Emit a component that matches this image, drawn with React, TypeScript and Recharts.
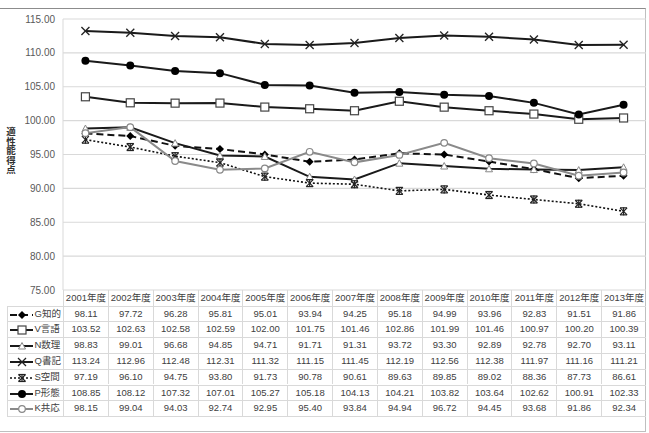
import React from 'react';
import { LineChart, Line, XAxis, YAxis, CartesianGrid } from 'recharts';

const categories = ['2001年度', '2002年度', '2003年度', '2004年度', '2005年度', '2006年度', '2007年度', '2008年度', '2009年度', '2010年度', '2011年度', '2012年度', '2013年度'];
const gValues = [98.11, 97.72, 96.28, 95.81, 95.01, 93.94, 94.25, 95.18, 94.99, 93.96, 92.83, 91.51, 91.86];
const vValues = [103.52, 102.63, 102.58, 102.59, 102.0, 101.75, 101.46, 102.86, 101.99, 101.46, 100.97, 100.2, 100.39];
const nValues = [98.83, 99.01, 96.68, 94.85, 94.71, 91.71, 91.31, 93.72, 93.3, 92.89, 92.78, 92.7, 93.11];
const qValues = [113.24, 112.96, 112.48, 112.31, 111.32, 111.15, 111.45, 112.19, 112.56, 112.38, 111.97, 111.16, 111.21];
const sValues = [97.19, 96.1, 94.75, 93.8, 91.73, 90.78, 90.61, 89.63, 89.85, 89.02, 88.36, 87.73, 86.61];
const pValues = [108.85, 108.12, 107.32, 107.01, 105.27, 105.18, 104.13, 104.21, 103.82, 103.64, 102.62, 100.91, 102.33];
const kValues = [98.15, 99.04, 94.03, 92.74, 92.95, 95.4, 93.84, 94.94, 96.72, 94.45, 93.68, 91.86, 92.34];
const yTicks = [75, 80, 85, 90, 95, 100, 105, 110, 115];
const yLabel = '適性能得点';

type Marker = 'diamond' | 'square' | 'triangle' | 'x' | 'star' | 'dot' | 'ring';
interface SeriesDef { key: string; name: string; values: number[]; stroke: string; width: number; dash?: string; marker: Marker; }

const series: SeriesDef[] = [
  { key: 'G', name: 'G知的', values: gValues, stroke: '#111', width: 2, dash: '7 4', marker: 'diamond' },
  { key: 'V', name: 'V言語', values: vValues, stroke: '#1a1a1a', width: 2, marker: 'square' },
  { key: 'N', name: 'N数理', values: nValues, stroke: '#1a1a1a', width: 2, marker: 'triangle' },
  { key: 'Q', name: 'Q書記', values: qValues, stroke: '#1a1a1a', width: 2, marker: 'x' },
  { key: 'S', name: 'S空間', values: sValues, stroke: '#111', width: 1.6, dash: '2 2', marker: 'star' },
  { key: 'P', name: 'P形態', values: pValues, stroke: '#1a1a1a', width: 2, marker: 'dot' },
  { key: 'K', name: 'K共応', values: kValues, stroke: '#8a8a8a', width: 2, marker: 'ring' },
];

const data = categories.map((c, i) => {
  const row: Record<string, string | number> = { cat: c };
  series.forEach((s) => { row[s.key] = s.values[i]; });
  return row;
});

function drawMarker(type: Marker, cx: number, cy: number, key?: string) {
  switch (type) {
    case 'diamond':
      return <polygon key={key} points={`${cx},${cy - 4} ${cx + 4},${cy} ${cx},${cy + 4} ${cx - 4},${cy}`} fill="#000" />;
    case 'square':
      return <rect key={key} x={cx - 4} y={cy - 4} width={8} height={8} fill="#fff" stroke="#444" strokeWidth={1.2} />;
    case 'triangle':
      return <polygon key={key} points={`${cx},${cy - 3.5} ${cx + 3.5},${cy + 3} ${cx - 3.5},${cy + 3}`} fill="#fff" stroke="#888" strokeWidth={1} />;
    case 'x':
      return (
        <g key={key} stroke="#222" strokeWidth={1.3}>
          <line x1={cx - 4} y1={cy - 4} x2={cx + 4} y2={cy + 4} />
          <line x1={cx - 4} y1={cy + 4} x2={cx + 4} y2={cy - 4} />
        </g>
      );
    case 'star':
      return (
        <g key={key} stroke="#222" strokeWidth={1.2}>
          <line x1={cx - 3.5} y1={cy - 3.5} x2={cx + 3.5} y2={cy + 3.5} />
          <line x1={cx - 3.5} y1={cy + 3.5} x2={cx + 3.5} y2={cy - 3.5} />
          <line x1={cx} y1={cy - 4} x2={cx} y2={cy + 4} />
          <line x1={cx - 3.5} y1={cy - 3.5} x2={cx + 3.5} y2={cy - 3.5} />
          <line x1={cx - 3.5} y1={cy + 3.5} x2={cx + 3.5} y2={cy + 3.5} />
        </g>
      );
    case 'dot':
      return <circle key={key} cx={cx} cy={cy} r={4} fill="#000" />;
    case 'ring':
      return <circle key={key} cx={cx} cy={cy} r={3.3} fill="#fff" stroke="#888" strokeWidth={1.2} />;
  }
  return null;
}

const makeDot = (s: SeriesDef) => (props: any) => {
  const { cx, cy, index } = props;
  if (cx == null || cy == null) return <g key={`${s.key}-${index}`} />;
  return drawMarker(s.marker, cx, cy, `${s.key}-${index}`);
};

const W = 649;
const H = 433;
const plotLeft = 63;
const plotRight = 646;
const plotTop = 19;
const plotBottom = 290;
const colW = (plotRight - plotLeft) / categories.length;
const headerH = 15.5;
const rowH = 15.8;
const tableLeft = 6.5;
const gridColor = '#d9d9d9';
const textColor = '#404040';
const narrowFont = "'Liberation Sans Narrow', 'Liberation Sans', 'Noto Sans CJK JP', sans-serif";

function LegendSymbol({ s }: { s: SeriesDef }) {
  return (
    <svg width={26} height={12} style={{ position: 'absolute', left: 1, top: 2 }}>
      <line x1={1} y1={6} x2={24} y2={6} stroke={s.stroke} strokeWidth={s.width} strokeDasharray={s.dash} />
      {drawMarker(s.marker, 13, 6)}
    </svg>
  );
}

export default function App() {
  const cells: React.ReactNode[] = [];
  categories.forEach((c, i) => {
    cells.push(
      <div key={`h-${i}`} style={{ position: 'absolute', left: plotLeft + i * colW, top: plotBottom, width: colW, height: headerH, borderLeft: `1px solid ${gridColor}`, boxSizing: 'border-box', fontSize: 9.5, lineHeight: `${headerH}px`, textAlign: 'center', color: textColor, fontFamily: narrowFont, whiteSpace: 'nowrap' }}>{c}</div>
    );
  });
  series.forEach((s, r) => {
    const top = plotBottom + headerH + r * rowH;
    cells.push(
      <div key={`l-${r}`} style={{ position: 'absolute', left: tableLeft, top, width: plotLeft - tableLeft, height: rowH, borderLeft: `1px solid ${gridColor}`, borderTop: `1px solid ${gridColor}`, boxSizing: 'border-box', fontSize: 9.5, lineHeight: `${rowH - 1}px`, color: textColor, fontFamily: narrowFont, whiteSpace: 'nowrap' }}>
        <LegendSymbol s={s} />
        <span style={{ position: 'absolute', left: 27 }}>{s.name}</span>
      </div>
    );
    s.values.forEach((v, i) => {
      cells.push(
        <div key={`c-${r}-${i}`} style={{ position: 'absolute', left: plotLeft + i * colW, top, width: colW, height: rowH, borderLeft: `1px solid ${gridColor}`, borderTop: `1px solid ${gridColor}`, boxSizing: 'border-box', fontSize: 9.5, lineHeight: `${rowH - 1}px`, textAlign: 'center', color: textColor, fontFamily: narrowFont }}>{v.toFixed(2)}</div>
      );
    });
  });
  const tableBottom = plotBottom + headerH + series.length * rowH;

  return (
    <div style={{ position: 'absolute', left: 0, top: 0, width: W, height: H, background: '#fff', overflow: 'hidden' }}>
      <div style={{ position: 'absolute', left: -2, top: 8, width: plotRight + 2, height: 424, borderTop: '1.5px solid #8c8c8c', borderRight: '1px solid #bfbfbf', borderBottom: '1px solid #bfbfbf', boxSizing: 'border-box' }} />
      <div style={{ position: 'absolute', left: 0, top: 0 }}>
        <LineChart width={W} height={H} data={data} margin={{ top: plotTop, right: W - plotRight, left: 0, bottom: H - plotBottom }}>
          <CartesianGrid vertical={false} stroke={gridColor} strokeWidth={1.2} />
          <XAxis dataKey="cat" hide padding={{ left: colW / 2, right: colW / 2 }} />
          <YAxis width={plotLeft} domain={[75, 115]} ticks={yTicks} interval={0} tickFormatter={(v: number) => v.toFixed(2)} tickLine={false} axisLine={{ stroke: gridColor }} tick={{ fill: '#595959', fontSize: 10, fontFamily: narrowFont }} />
          {series.map((s) => (
            <Line key={s.key} dataKey={s.key} name={s.name} type="linear" stroke={s.stroke} strokeWidth={s.width} strokeDasharray={s.dash} dot={makeDot(s)} activeDot={false} isAnimationActive={false} />
          ))}
        </LineChart>
      </div>
      <div style={{ position: 'absolute', left: 4, top: 127, writingMode: 'vertical-rl', textOrientation: 'upright', fontSize: 9.5, lineHeight: '14px', fontWeight: 'bold', color: '#333', fontFamily: "'Noto Sans CJK JP', sans-serif" }}>
        {yLabel}
      </div>
      {cells}
      <div style={{ position: 'absolute', left: tableLeft, top: tableBottom, width: plotRight - tableLeft, height: 0, borderTop: `1px solid ${gridColor}` }} />
    </div>
  );
}
